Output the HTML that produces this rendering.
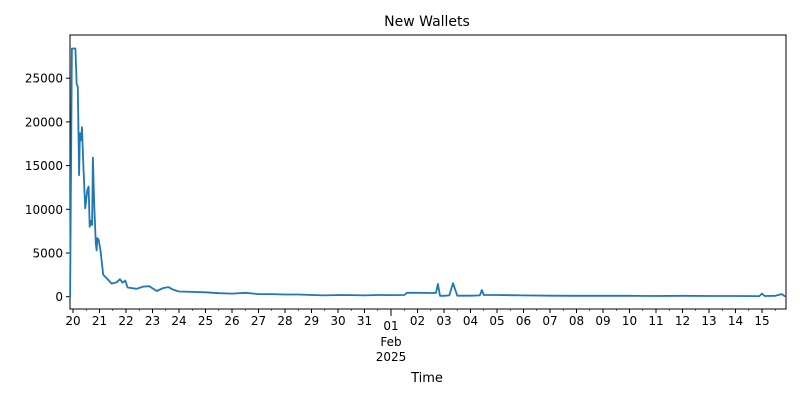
<!DOCTYPE html>
<html><head><meta charset="utf-8"><style>
body{margin:0;background:#fff;}
svg text{font-family:"DejaVu Sans","Liberation Sans",sans-serif;fill:#000;}
</style></head><body>
<svg id="chart" width="800" height="400" viewBox="0 0 800 400" xmlns="http://www.w3.org/2000/svg">
<text x="427" y="26" font-size="14" text-anchor="middle">New Wallets</text>
<rect x="70" y="35" width="716" height="274" fill="none" stroke="#000" stroke-width="1"/>
<g id="yaxis"></g>
<g id="xaxis"></g>
<text x="427" y="382" font-size="13" text-anchor="middle">Time</text>
<polyline id="line" fill="none" stroke="#1f77b4" stroke-width="1.8" stroke-linejoin="round"/>
</svg>
<script>
// days since Jan 20 00:00
const times = [-0.11,-0.04,0.09,0.14,0.18,0.23,0.26,0.30,0.34,0.39,0.46,0.54,0.59,0.63,0.68,0.72,0.75,0.80,0.86,0.89,0.92,0.97,1.04,1.14,1.27,1.46,1.65,1.77,1.87,1.97,2.06,2.4,2.65,2.88,3.16,3.41,3.6,3.78,4.0,4.5,5.0,5.5,6.0,6.5,7.0,7.5,8.0,8.5,9.0,9.5,10.0,10.5,11.0,11.5,12.0,12.5,12.6,13.0,13.5,13.7,13.77,13.85,14.0,14.2,14.34,14.5,15.0,15.35,15.43,15.5,16.0,17.0,18.0,19.0,20.0,21.0,22.0,23.0,24.0,25.0,25.9,26.0,26.1,26.5,26.75,26.85,26.9];
const values = [0,28400,28400,24300,24000,13900,18700,17900,19400,15200,10100,12200,12600,8000,8700,8200,15900,10600,6100,5300,6700,6500,5200,2500,2100,1500,1650,2000,1600,1850,1050,900,1150,1200,650,1000,1100,800,600,550,500,400,350,450,300,300,250,250,200,150,200,180,150,200,180,200,450,450,420,450,1450,100,100,150,1550,120,120,150,770,200,200,150,120,100,100,100,80,100,80,80,70,350,80,100,300,80,50];
const dayLabels = ["20","21","22","23","24","25","26","27","28","29","30","31","01","02","03","04","05","06","07","08","09","10","11","12","13","14","15"];
const yTicks = [0,5000,10000,15000,20000,25000];

const X0=73, DX=26.5, Y0=296.7, DY=43.7/5000;
const xs = d => X0 + d*DX;
const ys = v => Y0 - v*DY;
const NS="http://www.w3.org/2000/svg";
const yg=document.getElementById('yaxis'), xg=document.getElementById('xaxis');
function mk(tag, attrs, parent){const e=document.createElementNS(NS,tag);for(const k in attrs)e.setAttribute(k,attrs[k]);parent.appendChild(e);return e;}
yTicks.forEach(v=>{
  const y=ys(v);
  const t=mk('line',{x1:66,x2:70,y1:y,y2:y,stroke:'#000'},yg);
  
  
  const l=mk('text',{x:63,y:y+4.5,'font-size':12,'text-anchor':'end'},yg);
  l.textContent=v;
  
  
});
dayLabels.forEach((lab,i)=>{
  const x=xs(i);
  const major=lab==="01";
  const t=mk('line',{x1:x,x2:x,y1:309,y2:major?316:313,stroke:'#000'},xg);
  
  
  const l=mk('text',{x:x,y:major?330:325,'font-size':12,'text-anchor':'middle'},xg);
  l.textContent=lab;
  
  
  if(major){
    const m=mk('text',{x:x,y:346,'font-size':12,'text-anchor':'middle'},xg);
    m.textContent='Feb';
    
    
    const yy=mk('text',{x:x,y:361,'font-size':12,'text-anchor':'middle'},xg);
    yy.textContent='2025';
    
    
  }
});
for(let i=0;i<27;i++){const x=xs(i+0.5);if(x>786)break;const t=mk('line',{x1:x,x2:x,y1:309,y2:311,stroke:'#000','stroke-width':0.6},xg);
  
  }
document.getElementById('line').setAttribute('points',times.map((d,i)=>xs(d).toFixed(1)+','+ys(values[i]).toFixed(1)).join(' '));
</script>
</body></html>
